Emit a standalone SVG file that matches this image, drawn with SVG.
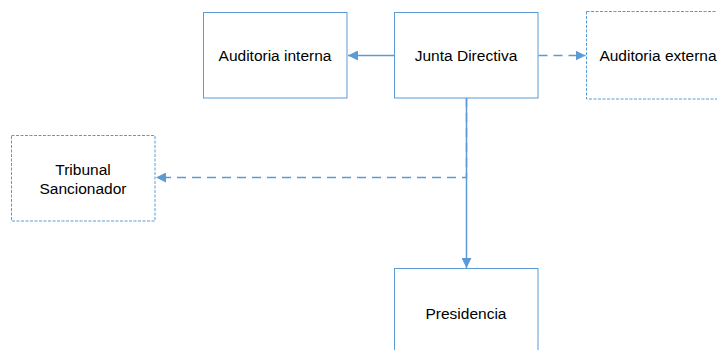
<svg xmlns="http://www.w3.org/2000/svg" width="717" height="350" viewBox="0 0 717 350">
<defs>
<marker id="ah" viewBox="0 0 10 10" refX="10" refY="5" markerWidth="10" markerHeight="10" markerUnits="userSpaceOnUse" orient="auto">
<path d="M0,0 L10,5 L0,10 Z" fill="#5B9BD5"/>
</marker>
<style>
.box{fill:#fff;stroke:#5B9BD5;stroke-width:1}
.dbox{fill:#fff;stroke:#5B9BD5;stroke-width:1;stroke-dasharray:3 1.5}
.lbl{font-family:"Liberation Sans",Arial,sans-serif;font-size:15.5px;fill:#000;text-anchor:middle}
.ln{fill:none;stroke:#5B9BD5;stroke-width:1.5}
.dl{fill:none;stroke:#5B9BD5;stroke-width:1.5;stroke-dasharray:9 6}
</style>
</defs>
<rect width="717" height="350" fill="#fff"/>
<g id="connectors">
<line class="ln" x1="394" y1="55.5" x2="348" y2="55.5" marker-end="url(#ah)"/>
<line class="dl" x1="538.5" y1="55.5" x2="585.5" y2="55.5" marker-end="url(#ah)"/>
<line class="ln" x1="466.5" y1="98" x2="466.5" y2="268" marker-end="url(#ah)"/>
<polyline class="dl" points="466.5,98 466.5,177.5 156,177.5" marker-end="url(#ah)"/>
</g>
<g id="auditoria-interna">
<rect class="box" x="203.5" y="12.5" width="143.5" height="85.5"/>
<text class="lbl" x="275" y="60.5">Auditoria interna</text>
</g>
<g id="junta-directiva">
<rect class="box" x="394.5" y="12.5" width="143.5" height="85.5"/>
<text class="lbl" x="466" y="60.5">Junta Directiva</text>
</g>
<g id="auditoria-externa">
<rect class="dbox" x="586.5" y="11.5" width="143.5" height="87.5"/>
<text class="lbl" x="658" y="60.5">Auditoria externa</text>
</g>
<g id="tribunal-sancionador">
<rect class="dbox" x="11.5" y="135.5" width="143.5" height="85.5"/>
<text class="lbl" x="83" y="174.5">Tribunal</text>
<text class="lbl" x="83" y="193.5">Sancionador</text>
</g>
<g id="presidencia">
<rect class="box" x="394.5" y="268.5" width="143.5" height="90"/>
<text class="lbl" x="466" y="318.5">Presidencia</text>
</g>
</svg>
